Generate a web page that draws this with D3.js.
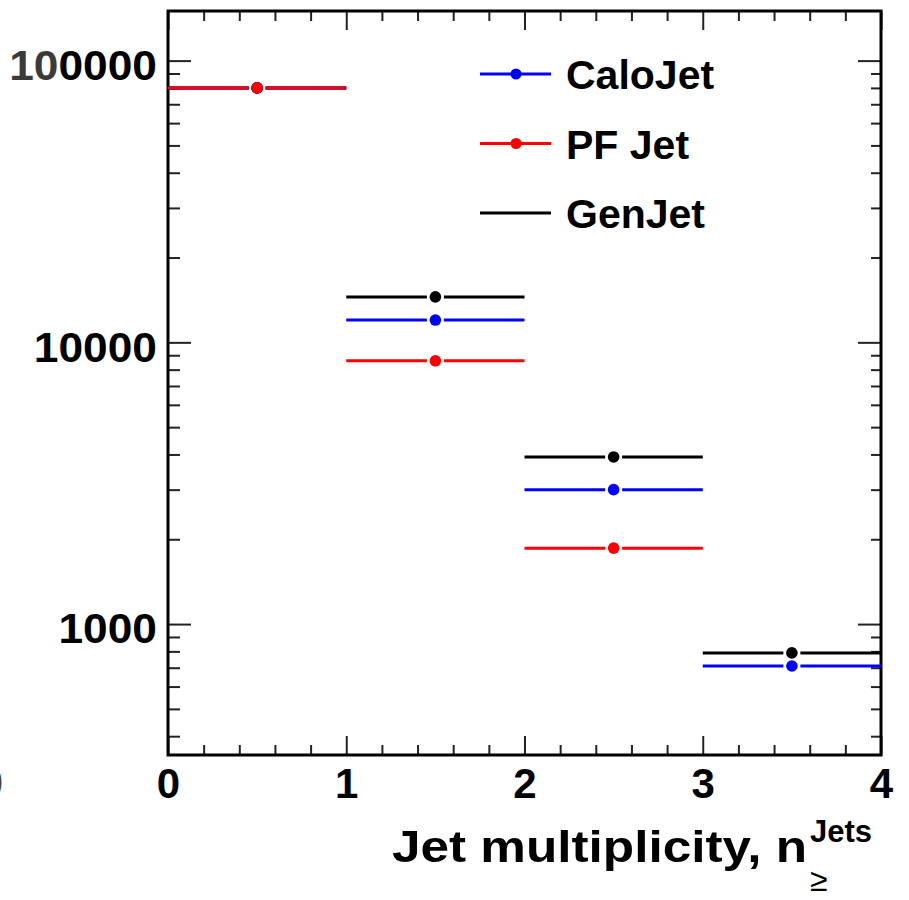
<!DOCTYPE html>
<html lang="en">
<head>
  <meta charset="utf-8">
  <title>Jet multiplicity</title>
  <style>
    body { margin: 0; background: #fff; }
    svg text { font-family: "Liberation Sans", Arial, sans-serif; font-weight: bold; }
  </style>
</head>
<body>
  <svg id="chart" width="909" height="900"></svg>

  <script src="https://d3js.org/d3.v7.min.js"></script>
  <script>
    // data (inclusive jet multiplicity bins)
    const bins = [0, 1, 2, 3];
    const caloJet = [80000, 12000, 3000, 710];
    const pfJet = [80000, 8600, 1860, null];
    const genJet = [80000, 14500, 3920, 790];

    const xMajor = [0, 1, 2, 3, 4];
    const yMajor = [1000, 10000, 100000];

    const series = [
      { name: "GenJet", values: genJet, color: "#000" },
      { name: "CaloJet", values: caloJet, color: "#0000ff" },
      { name: "PF Jet", values: pfJet, color: "#ff0000" }
    ];
    const legendItems = [
      { name: "CaloJet", color: "#0000ff", marker: true },
      { name: "PF Jet", color: "#ff0000", marker: true },
      { name: "GenJet", color: "#000", marker: false }
    ];

    const frameL = 168, frameR = 881, frameT = 11, frameB = 755;

    const x = d3.scaleLinear().domain([0, 4]).range([frameL, frameR]);
    const y = d3.scaleLog().domain([343, 150000]).range([frameB, frameT]);

    const svg = d3.select("#chart");

    // minor tick values
    const xMinor = d3.range(0, 4.001, 0.2).filter(v => Math.abs(v - Math.round(v)) > 1e-6);
    const yMinor = [];
    for (const dec of [100, 1000, 10000, 100000]) {
      for (let k = 2; k <= 9; k++) {
        const v = dec * k;
        if (v >= 343 && v <= 150000) yMinor.push(v);
      }
    }

    function styleAxis(g) {
      g.select(".domain").remove();
      g.selectAll(".tick line").attr("stroke", "#222").attr("stroke-width", 2);
      g.selectAll(".tick text")
        .attr("fill", "#000")
        .style("font-size", "42px")
        .style("font-family", "Liberation Sans, Arial, sans-serif")
        .style("font-weight", "bold");
    }

    // bottom axis
    svg.append("g").attr("transform", `translate(0,${frameB})`)
      .call(d3.axisBottom(x).tickValues(xMajor).tickSize(-19).tickPadding(13).tickFormat(d3.format("d")))
      .call(styleAxis);
    svg.append("g").attr("transform", `translate(0,${frameB})`)
      .call(d3.axisBottom(x).tickValues(xMinor).tickSize(-10).tickFormat(""))
      .call(styleAxis);
    // top axis
    svg.append("g").attr("transform", `translate(0,${frameT})`)
      .call(d3.axisTop(x).tickValues(xMajor).tickSize(-19).tickFormat(""))
      .call(styleAxis);
    svg.append("g").attr("transform", `translate(0,${frameT})`)
      .call(d3.axisTop(x).tickValues(xMinor).tickSize(-10).tickFormat(""))
      .call(styleAxis);

    // left axis
    const yAxisG = svg.append("g").attr("transform", `translate(${frameL},0)`)
      .call(d3.axisLeft(y).tickValues(yMajor).tickSize(-23).tickPadding(11).tickFormat(d3.format("d")))
      .call(styleAxis);
    yAxisG.selectAll(".tick text")
      .attr("dy", "0.45em")
      .each(function () {
        const w = this.getComputedTextLength();
        d3.select(this).attr("textLength", w * 1.055).attr("lengthAdjust", "spacingAndGlyphs");
      });
    // the "10" of the top label is rendered grey in the original
    yAxisG.selectAll(".tick text").filter(d => d === 100000)
      .text(null)
      .call(t => {
        t.append("tspan").attr("fill", "#3a3a3a").text("10");
        t.append("tspan").text("0000");
      });
    svg.append("g").attr("transform", `translate(${frameL},0)`)
      .call(d3.axisLeft(y).tickValues(yMinor).tickSize(-12).tickFormat(""))
      .call(styleAxis);
    // right axis
    svg.append("g").attr("transform", `translate(${frameR},0)`)
      .call(d3.axisRight(y).tickValues(yMajor).tickSize(-23).tickFormat(""))
      .call(styleAxis);
    svg.append("g").attr("transform", `translate(${frameR},0)`)
      .call(d3.axisRight(y).tickValues(yMinor).tickSize(-10).tickFormat(""))
      .call(styleAxis);

    // frame
    svg.append("rect")
      .attr("x", frameL).attr("y", frameT)
      .attr("width", frameR - frameL).attr("height", frameB - frameT)
      .attr("fill", "none").attr("stroke", "#000").attr("stroke-width", 3);

    // stray clipped label at the left edge (cut off in the original too)
    svg.append("text")
      .attr("x", 3).attr("y", 797)
      .attr("text-anchor", "end")
      .attr("fill", "#444")
      .style("font-size", "42px")
      .text("0");

    // horizontal bin bars with a gap round the marker, then markers
    const gap = 8.5;
    const plot = svg.append("g");
    for (const s of series) {
      const pts = bins.map((b, i) => ({ b, v: s.values[i] })).filter(p => p.v != null);
      const g = plot.append("g");
      for (const p of pts) {
        const cx = x(p.b + 0.5), cy = y(p.v);
        g.append("line")
          .attr("x1", x(p.b)).attr("x2", cx - gap)
          .attr("y1", cy).attr("y2", cy)
          .attr("stroke", s.color).attr("stroke-width", 3);
        g.append("line")
          .attr("x1", cx + gap).attr("x2", x(p.b + 1))
          .attr("y1", cy).attr("y2", cy)
          .attr("stroke", s.color).attr("stroke-width", 3);
        g.append("circle")
          .attr("cx", cx).attr("cy", cy).attr("r", 5.8)
          .attr("fill", s.color);
      }
    }

    // legend
    const legend = svg.append("g");
    legendItems.forEach((d, i) => {
      const cy = 74 + i * 69.5;
      legend.append("line")
        .attr("x1", 480).attr("x2", 551)
        .attr("y1", cy).attr("y2", cy)
        .attr("stroke", d.color).attr("stroke-width", 3);
      if (d.marker) {
        legend.append("circle")
          .attr("cx", 516).attr("cy", cy).attr("r", 5.5)
          .attr("fill", d.color);
      }
      legend.append("text")
        .attr("x", 566).attr("y", cy + 15)
        .attr("fill", "#000")
        .style("font-size", "41px")
        .text(d.name);
    });

    // x axis title with super/subscript
    const titleX = 392, titleW = 415;
    svg.append("text")
      .attr("x", titleX).attr("y", 862)
      .attr("textLength", titleW).attr("lengthAdjust", "spacingAndGlyphs")
      .style("font-size", "45px")
      .text("Jet multiplicity, n");
    const tEnd = titleX + titleW;
    svg.append("text")
      .attr("x", tEnd + 3).attr("y", 842)
      .style("font-size", "31px")
      .text("Jets");
    svg.append("text")
      .attr("x", tEnd + 3).attr("y", 891)
      .style("font-size", "32px")
      .style("font-weight", "normal")
      .text("≥");
  </script>
</body>
</html>
